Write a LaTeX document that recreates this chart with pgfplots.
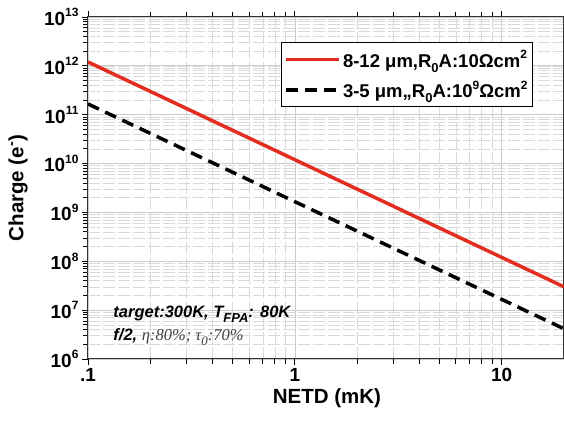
\documentclass[border=0pt]{standalone}
\usepackage{fontspec}
\setmainfont{Liberation Sans}
\newfontfamily\serifit{Liberation Serif}
\usepackage{pgfplots}
\pgfplotsset{compat=1.18}
\usetikzlibrary{calc}
\definecolor{redl}{RGB}{226,45,32}
\newcommand\sps[1]{\raisebox{0.45em}{\fontsize{12}{12}\selectfont #1}}
\newcommand\sbs[1]{\raisebox{-0.3em}{\fontsize{13}{13}\selectfont #1}}
\begin{document}
\begin{tikzpicture}
\begin{axis}[name=ax,
  scale only axis, width=476pt, height=342pt,
  xmode=log, ymode=log,
  xmin=0.1, xmax=20, ymin=1e6, ymax=1e13,
  xtick={0.1,1,10}, xticklabels={.1,1,10},
  ytick={1e6,1e7,1e8,1e9,1e10,1e11,1e12,1e13},
  yticklabels={10\sps{6},10\sps{7},10\sps{8},10\sps{9},10\sps{10},10\sps{11},10\sps{12},10\sps{13}},
  tick label style={font=\bfseries\fontsize{19}{21}\selectfont},
  tick align=outside, major tick length=6pt, minor tick length=5pt,
  tick style={black, line width=0.8pt},
  grid=both,
  major grid style={gray!40, line width=0.7pt},
  minor grid style={gray!30, line width=0.6pt, dash pattern=on 12pt off 3pt},
  axis line style={line width=1pt, black!80},
  xlabel={NETD (mK)}, ylabel={Charge (e\textsuperscript{-})},
  label style={font=\bfseries\fontsize{20.5}{23}\selectfont},
  xlabel style={at={(axis description cs:0.502,-0.114)}, anchor=center},
  ylabel style={at={(axis description cs:-0.147,0.5)}, anchor=center},
  legend style={at={(0.935,0.927)}, anchor=north east, draw=black, line width=1pt,
    font=\bfseries\fontsize{18.5}{21}\selectfont, inner xsep=3pt, inner ysep=6pt, row sep=8pt,
    cells={anchor=west}},
  legend image code/.code={\draw[#1] (0pt,0pt) -- (53pt,0pt);},
]
\addplot[redl, line width=3.5pt] coordinates {
 (0.1,1.2e12) (0.2,3e11) (0.5,4.8e10) (1,1.2e10) (2,3e9) (5,4.8e8) (10,1.2e8) (20,3e7)};
\addlegendentry{8-12 μm,R\sbs{0}A:10Ωcm\sps{2}}
\addplot[black, line width=3.5pt, dash pattern=on 12pt off 7pt] coordinates {
 (0.1,1.66e11) (0.2,4.15e10) (0.5,6.64e9) (1,1.66e9) (2,4.15e8) (5,6.64e7) (10,1.66e7) (20,4.15e6)};
\addlegendentry{3-5 μm,,R\sbs{0}A:10\sps{9}Ωcm\sps{2}}
\node[anchor=base west, font=\bfseries\itshape\fontsize{16.5}{18}\selectfont] at (rel axis cs:0.046,0.12) {target:300K, T\sbs{FPA}: 80K};
\node[anchor=base west, font=\fontsize{16.5}{18}\selectfont] at (rel axis cs:0.046,0.055) {\bfseries\itshape f/2, {\serifit\mdseries\itshape \textcolor{black!75}{η:80\%; τ\sbs{0}:70\%}}};
\end{axis}
\pgfresetboundingbox
\path ($(ax.south west)+(-88pt,-63pt)$) rectangle ($(ax.north east)+(0pt,17pt)$);
\end{tikzpicture}
\end{document}
